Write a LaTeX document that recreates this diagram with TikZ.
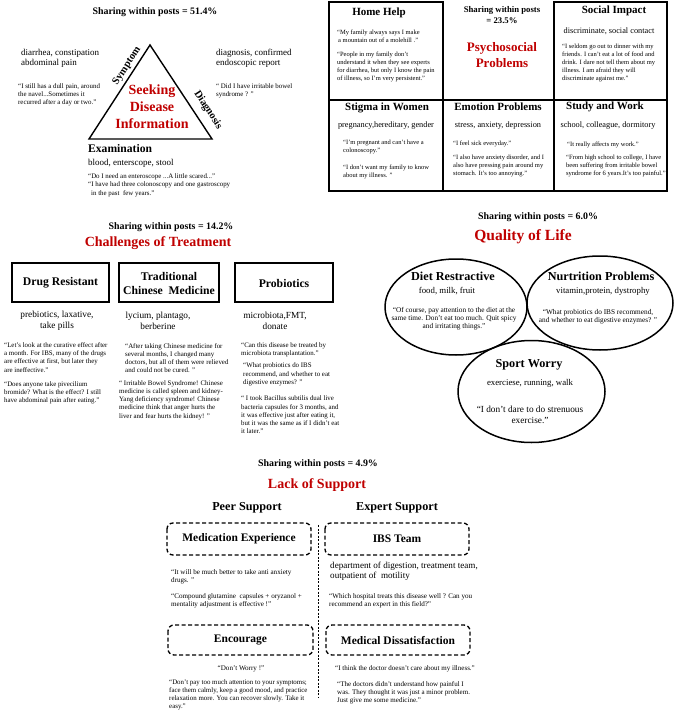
\documentclass[tikz,border=0pt]{standalone}
\usepackage{fontspec}
\setmainfont{Liberation Serif}
\usetikzlibrary{shapes.geometric}
\definecolor{hred}{RGB}{192,0,0}
\tikzset{
  q/.style={font=\fontsize{6.5}{7.9}\selectfont, inner sep=0pt, align=left, anchor=west},
  qa/.style={q, font=\fontsize{6.9}{8.2}\selectfont},
  qb/.style={q, font=\fontsize{7.1}{8.4}\selectfont},
  qe/.style={q, font=\fontsize{7.3}{7.8}\selectfont, align=center, anchor=center},
  kw/.style={font=\fontsize{9}{10}\selectfont, inner sep=0pt, align=left, anchor=west},
  kwg/.style={kw, font=\fontsize{8.3}{10}\selectfont, align=center, anchor=center},
  kwt/.style={kw, font=\fontsize{9.3}{11}\selectfont, align=center, anchor=center},
  kwe/.style={kw, font=\fontsize{8.8}{10}\selectfont, align=center, anchor=center},
  ttl/.style={font=\bfseries\fontsize{11}{14}\selectfont, inner sep=0pt, align=center},
  bttl/.style={font=\bfseries\fontsize{11.7}{14}\selectfont, inner sep=0pt, align=center},
  bigttl/.style={font=\bfseries\fontsize{12.2}{14}\selectfont, inner sep=0pt, align=center},
  dttl/.style={font=\bfseries\fontsize{11.5}{14}\selectfont, inner sep=0pt, align=center},
  head/.style={font=\bfseries\fontsize{14}{17}\selectfont, text=hred, inner sep=0pt, align=center},
  share/.style={font=\bfseries\fontsize{9.9}{11}\selectfont, inner sep=0pt, align=center},
  edge/.style={font=\bfseries\fontsize{10.5}{12}\selectfont, inner sep=0pt},
  tri/.style={draw, line width=1.4pt, line join=miter},
  cell/.style={draw, line width=1.1pt},
  tbox/.style={draw, line width=1.4pt},
  dbox/.style={draw, line width=1.3pt, dash pattern=on 4pt off 2.5pt, rounded corners=6pt},
  sep/.style={draw, line width=0.6pt, dash pattern=on 2pt off 1.5pt},
  oval/.style={draw, ellipse, line width=1.5pt, inner sep=0pt}
}
\begin{document}
\begin{tikzpicture}[x=1pt, y=-1pt]
\useasboundingbox[fill=white] (0,0) rectangle (676,714);

% ===== Seeking Disease Information =====
\node[share] (s1) at (155,12) {Sharing within posts = 51.4\%};
\coordinate (ta) at (150,45);
\coordinate (tb) at (89,139);
\coordinate (tc) at (212,139);
\draw[tri] (ta) -- (tb) -- (tc) -- cycle;
\node[edge, rotate=57] (sym) at (127,66) {Symptom};
\node[edge, rotate=-57] (dia) at (208,110) {Diagnosis};
\node[head] (sdi) at (152,107) {Seeking\\Disease\\Information};
\node[kw] (k1) at (21,58) {diarrhea, constipation\\abdominal pain};
\node[qa] (q1) at (18,95) {“I still has a dull pain, around\\the navel...Sometimes it\\recurred after a day or two.”};
\node[kw] (k2) at (216,58) {diagnosis, confirmed\\endoscopic report};
\node[qa] (q2) at (216,91) {“ Did I have irritable bowel\\syndrome ? ”};
\node[ttl, font=\bfseries\fontsize{11.6}{14}\selectfont, anchor=west] (exa) at (88,149) {Examination};
\node[kw] (k3) at (88,163) {blood, enterscope, stool};
\node[qa, font=\fontsize{6.9}{8.5}\selectfont] (q3) at (88,185) {“Do I need an enteroscope ...A little scared...”\\“I have had three colonoscopy and one gastroscopy\\\hspace*{3pt}in the past~ few years.”};

% ===== Psychosocial Problems =====
\draw[cell] (329,2) rectangle (443,100);
\draw[cell] (554,2) rectangle (667,100);
\draw[cell] (329,100) rectangle (443,191);
\draw[cell] (443,100) rectangle (554,191);
\draw[cell] (554,100) rectangle (667,191);

\node[ttl] (hh) at (379,13) {Home Help};
\node[q] (hq1) at (337,36) {“My family always says I make\\\hspace*{1pt}a mountain out of a molehill .”};
\node[q] (hq2) at (337,67) {“People in my family don't\\understand it when they see experts\\for diarrhea, but only I know the pain\\of illness, so I'm very persistent.”};

\node[share, font=\bfseries\fontsize{8.7}{11}\selectfont] (s2) at (502,15) {Sharing within posts\\= 23.5\%};
\node[head, font=\bfseries\fontsize{13}{16}\selectfont] (pp) at (502,55) {Psychosocial\\Problems};

\node[ttl] (si) at (614,11) {Social Impact};
\node[kwg] (sik) at (609,31) {discriminate, social contact};
\node[q] (siq) at (562,63) {“I seldom go out to dinner with my\\friends. I can't eat a lot of food and\\drink. I dare not tell them about my\\illness. I am afraid they will\\discriminate against me.”};

\node[ttl] (sw) at (387,108) {Stigma in Women};
\node[kwg] (swk) at (386,126) {pregnancy,hereditary, gender};
\node[q] (swq1) at (343,147) {“I'm pregnant and can't have a\\colonoscopy.”};
\node[q] (swq2) at (343,172) {“I don't want my family to know\\about my illness. ”};

\node[ttl] (ep) at (498,107) {Emotion Problems};
\node[kwg] (epk) at (498,126) {stress, anxiety, depression};
\node[q] (epq1) at (453,144) {“I feel sick everyday.”};
\node[q] (epq2) at (453,166) {“I also have anxiety disorder, and I\\also have pressing pain around my\\stomach. It's too annoying.”};

\node[ttl] (swk2) at (605,107) {Study and Work};
\node[kwg] (wkk) at (608,126) {school, colleague, dormitory};
\node[q] (wkq1) at (567,145) {“It really affects my work.”};
\node[q] (wkq2) at (566,166) {“From high school to college, I have\\been suffering from irritable bowel\\syndrome for 6 years.It's too painful.”};

% ===== Challenges of Treatment =====
\node[share] (s3) at (171,227) {Sharing within posts = 14.2\%};
\node[head] (cot) at (158,243) {Challenges of Treatment};
\draw[tbox] (12,263) rectangle (109,302);
\draw[tbox] (119,263) rectangle (219,302);
\draw[tbox] (235,263) rectangle (333,302);
\node[bttl] (dr) at (60.5,283) {Drug Resistant};
\node[bttl] (tcm) at (169,283) {Traditional\\Chinese~ Medicine};
\node[bttl] (pb) at (284,283) {Probiotics};
\node[kwt] (drk) at (57,320.5) {prebiotics, laxative,\\take pills};
\node[kwt] (tck) at (158,320.5) {lycium, plantago,\\berberine};
\node[kwt] (pbk) at (275,320.5) {microbiota,FMT,\\donate};
\node[qa] (drq1) at (4,357.5) {“Let's look at the curative effect after\\a month. For IBS, many of the drugs\\are effective at first, but later they\\are ineffective.”};
\node[qa] (drq2) at (4,393) {“Does anyone take pivecilium\\bromide? What is the effect? I still\\have abdominal pain after eating.”};
\node[qa] (tcq1) at (125,358) {“After taking Chinese medicine for\\several months, I changed many\\doctors, but all of them were relieved\\and could not be cured. ”};
\node[qa] (tcq2) at (119,400) {“ Irritable Bowel Syndrome! Chinese\\medicine is called spleen and kidney-\\Yang deficiency syndrome! Chinese\\medicine think that anger hurts the\\liver and fear hurts the kidney! ”};
\node[qa] (pbq1) at (241,349.5) {“Can this disease be treated by\\microbiota transplantation.”};
\node[qa] (pbq2) at (243,374.5) {“What probiotics do IBS\\recommend, and whether to eat\\digestive enzymes? ”};
\node[qa] (pbq3) at (241,415) {“ I took Bacillus subtilis dual live\\bacteria capsules for 3 months, and\\it was effective just after eating it,\\but it was the same as if I didn't eat\\it later.”};

% ===== Quality of Life =====
\node[share] (s4) at (538,217) {Sharing within posts = 6.0\%};
\node[head, font=\bfseries\fontsize{15.5}{18}\selectfont] (qol) at (523,237) {Quality of Life};
\node[oval, minimum width=146pt, minimum height=94pt] (e2) at (600,303) {};
\node[oval, minimum width=142pt, minimum height=96pt] (e1) at (456,307) {};
\node[oval, minimum width=147pt, minimum height=102pt] (e3) at (531.5,391.5) {};
\node[bigttl] (dt) at (453,276) {Diet Restractive};
\node[kwe] (dtk) at (447,291) {food, milk, fruit};
\node[qe] (dtq) at (454,318.5) {“Of course, pay attention to the diet at the\\same time. Don't eat too much. Quit spicy\\and irritating things.”};
\node[bigttl] (nt) at (601,276) {Nurtrition Problems};
\node[kwe] (ntk) at (603,291) {vitamin,protein, dystrophy};
\node[qe] (ntq) at (598,316.5) {“What probiotics do IBS recommend,\\and whether to eat digestive enzymes? ”};
\node[bigttl] (sp) at (529,365) {Sport Worry};
\node[kwe] (spk) at (530,383) {exerciese, running, walk};
\node[kwe, font=\fontsize{9.3}{11}\selectfont] (spq) at (530,414.5) {“I don't dare to do strenuous\\exercise.”};

% ===== Lack of Support =====
\node[share] (s5) at (318,464) {Sharing within posts = 4.9\%};
\node[head] (los) at (317,485) {Lack of Support};
\node[bigttl] (peer) at (247,508) {Peer Support};
\node[bigttl] (exp) at (397,508) {Expert Support};
\coordinate (vt) at (318,525);
\coordinate (vb) at (318,697);
\draw[sep] (vt) -- (vb);
\draw[dbox] (167,523) rectangle (311,555);
\draw[dbox] (325,523) rectangle (469,555);
\draw[dbox] (168,625) rectangle (313,655);
\draw[dbox] (326,625) rectangle (470,655);
\node[dttl] (me) at (239,539) {Medication Experience};
\node[dttl] (ibs) at (397,539) {IBS Team};
\node[dttl] (enc) at (240.5,640) {Encourage};
\node[dttl] (md) at (398,640) {Medical Dissatisfaction};
\node[qb] (meq1) at (171,577) {“It will be much better to take anti anxiety\\drugs. ”};
\node[qb] (meq2) at (171,601) {“Compound glutamine~ capsules + oryzanol +\\mentality adjustment is effective !”};
\node[kw, font=\fontsize{9.1}{10.5}\selectfont] (ibk) at (330,571.5) {department of digestion, treatment team,\\outpatient of~ motility};
\node[qb] (ibq) at (329,601) {“Which hospital treats this disease well ? Can you\\recommend an expert in this field?”};
\node[qb, anchor=center] (enq1) at (241,669) {“Don't Worry !”};
\node[qb, font=\fontsize{6.9}{8}\selectfont] (enq2) at (169,695) {“Don't pay too much attention to your symptoms;\\face them calmly, keep a good mood, and practice\\relaxation more. You can recover slowly. Take it\\easy.”};
\node[qb, font=\fontsize{7}{8}\selectfont] (mdq1) at (335,669) {“I think the doctor doesn't care about my illness.”};
\node[qb, font=\fontsize{7}{8}\selectfont] (mdq2) at (337,693) {“The doctors didn't understand how painful I\\was. They thought it was just a minor problem.\\Just give me some medicine.”};
\end{tikzpicture}
\end{document}
